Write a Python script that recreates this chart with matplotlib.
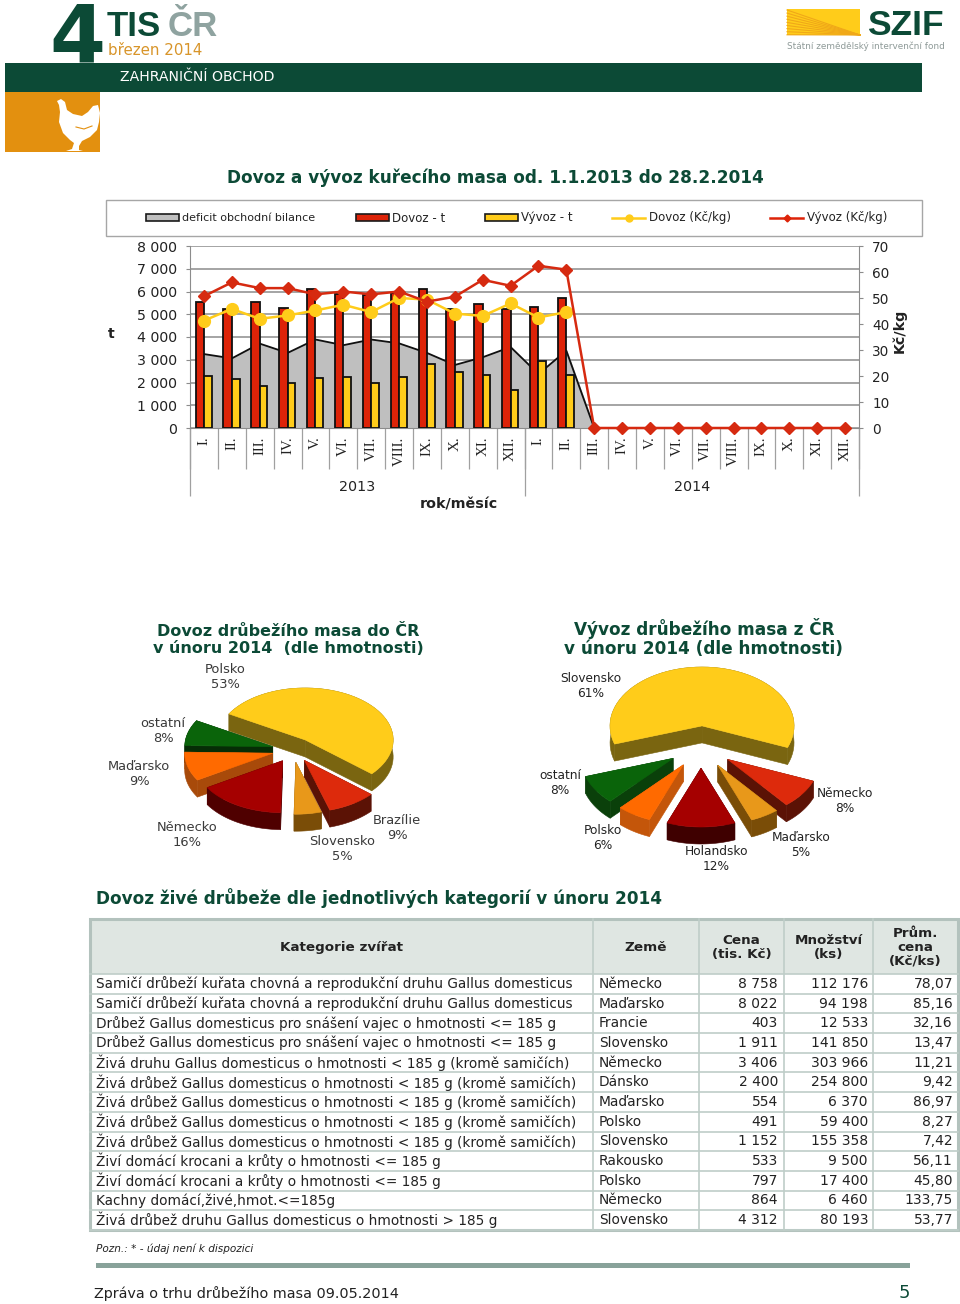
import numpy as np
import matplotlib
matplotlib.use("Agg")
import matplotlib.pyplot as plt
from matplotlib.patches import Polygon, Rectangle

plt.rcParams["font.family"] = ["DejaVu Sans"]

W, H = 960, 1304

# combo chart data
months = ["I.", "II.", "III.", "IV.", "V.", "VI.", "VII.", "VIII.", "IX.", "X.", "XI.", "XII."] * 2
years = ["2013", "2014"]
dovoz_t = [5550, 5230, 5560, 5270, 6090, 5870, 5850, 5950, 6120, 5250, 5450, 5240, 5330, 5720]
vyvoz_t = [2300, 2170, 1850, 1970, 2200, 2230, 1960, 2230, 2820, 2480, 2340, 1680, 2960, 2320]
deficit = [3250, 3060, 3710, 3300, 3890, 3640, 3890, 3720, 3300, 2770, 3110, 3560, 2370, 3400,
           0, 0, 0, 0, 0, 0, 0, 0, 0, 0]
dovoz_kc = [41.3, 45.8, 42.0, 43.3, 45.2, 47.4, 44.6, 50.0, 49.4, 44.0, 43.1, 47.9, 42.5, 44.6]
vyvoz_kc = [50.7, 56.0, 53.8, 53.8, 51.4, 52.5, 51.4, 52.5, 48.6, 50.5, 57.0, 54.7, 62.4, 60.9,
            0, 0, 0, 0, 0, 0, 0, 0, 0, 0]
left_ticks = [0, 1000, 2000, 3000, 4000, 5000, 6000, 7000, 8000]
left_labels = ["0", "1 000", "2 000", "3 000", "4 000", "5 000", "6 000", "7 000", "8 000"]
right_ticks = [0, 10, 20, 30, 40, 50, 60, 70]

# pies
import_names = ["Polsko", "Brazílie", "Slovensko", "Německo", "Maďarsko", "ostatní"]
import_share = [53, 9, 5, 16, 9, 8]
export_names = ["Slovensko", "Německo", "Maďarsko", "Holandsko", "Polsko", "ostatní"]
export_share = [61, 8, 5, 12, 6, 8]

# table
table_head = ["Kategorie zvířat", "Země", "Cena\n(tis. Kč)", "Množství\n(ks)", "Prům.\ncena\n(Kč/ks)"]
categories = [
    "Samičí drůbeží kuřata chovná a reprodukční druhu Gallus domesticus",
    "Samičí drůbeží kuřata chovná a reprodukční druhu Gallus domesticus",
    "Drůbež Gallus domesticus pro snášení vajec o hmotnosti <= 185 g",
    "Drůbež Gallus domesticus pro snášení vajec o hmotnosti <= 185 g",
    "Živá druhu Gallus domesticus o hmotnosti < 185 g (kromě samičích)",
    "Živá drůbež Gallus domesticus o hmotnosti < 185 g (kromě samičích)",
    "Živá drůbež Gallus domesticus o hmotnosti < 185 g (kromě samičích)",
    "Živá drůbež Gallus domesticus o hmotnosti < 185 g (kromě samičích)",
    "Živá drůbež Gallus domesticus o hmotnosti < 185 g (kromě samičích)",
    "Živí domácí krocani a krůty o hmotnosti <= 185 g",
    "Živí domácí krocani a krůty o hmotnosti <= 185 g",
    "Kachny domácí,živé,hmot.<=185g",
    "Živá drůbež druhu Gallus domesticus o hmotnosti > 185 g",
]
countries = ["Německo", "Maďarsko", "Francie", "Slovensko", "Německo", "Dánsko", "Maďarsko",
             "Polsko", "Slovensko", "Rakousko", "Polsko", "Německo", "Slovensko"]
cena = ["8 758", "8 022", "403", "1 911", "3 406", "2 400", "554", "491", "1 152", "533", "797", "864", "4 312"]
mnozstvi = ["112 176", "94 198", "12 533", "141 850", "303 966", "254 800", "6 370", "59 400",
            "155 358", "9 500", "17 400", "6 460", "80 193"]
prum_cena = ["78,07", "85,16", "32,16", "13,47", "11,21", "9,42", "86,97", "8,27", "7,42",
             "56,11", "45,80", "133,75", "53,77"]

GREEN = "#0C4A36"
RED = "#DD2308"
YELLOW = "#FFCC1A"
GRAY_TXT = "#222222"


def rect(x0, y0, x1, y1):
    # pixel box to figure fraction
    return [x0 / W, 1 - y1 / H, (x1 - x0) / W, (y1 - y0) / H]


def draw_pie(ax, shares, colors, walls, start, cx, cy, rx, squish, depth, explode):
    angle = start
    pieces = []
    for share, top, wall in zip(shares, colors, walls):
        sweep = share * 3.6
        t = np.radians(np.linspace(angle, angle - sweep, 60))
        mid = np.radians(angle - sweep / 2)
        tx = cx + explode * np.cos(mid)
        ty = cy - explode * np.sin(mid) * squish
        xs = tx + rx * np.cos(t)
        ys = ty - rx * squish * np.sin(t)
        pieces.append((ty, tx, ty, xs, ys, top, wall))
        angle -= sweep
    # paint far slices first
    for _, tx, ty, xs, ys, top, wall in sorted(pieces, key=lambda p: p[0]):
        for i in [0, -1]:
            ax.add_patch(Polygon([(tx, ty), (xs[i], ys[i]), (xs[i], ys[i] + depth), (tx, ty + depth)],
                                 fc=wall, ec=wall, lw=0.4))
        rim = np.column_stack([np.r_[xs, xs[::-1]], np.r_[ys, ys[::-1] + depth]])
        ax.add_patch(Polygon(rim, fc=wall, ec=wall, lw=0.4))
        ax.add_patch(Polygon(np.column_stack([np.r_[tx, xs], np.r_[ty, ys]]), fc=top, ec=top, lw=0.4))


fig = plt.figure(figsize=(W / 100, H / 100), dpi=100, facecolor="white")

# page overlay in pixel coordinates
page = fig.add_axes([0, 0, 1, 1])
page.set_xlim(0, W)
page.set_ylim(H, 0)
page.axis("off")

# header
page.add_patch(Rectangle((5, 63), 917, 29, fc=GREEN, ec="none"))
page.add_patch(Rectangle((5, 92), 95, 60, fc="#E3900F", ec="none"))
page.text(77, 62, "4", fontsize=58, fontweight="bold", color=GREEN, ha="center", va="baseline")
page.text(107, 36, "TIS", fontsize=25, fontweight="bold", family="Liberation Sans", color=GREEN, va="baseline")
page.text(168, 36, "ČR", fontsize=25, fontweight="bold", family="Liberation Sans", color="#8FA3A0", va="baseline")
page.text(108, 55, "březen 2014", fontsize=10.8, color="#D8952A", va="baseline")
page.text(120, 81, "ZAHRANIČNÍ OBCHOD", fontsize=10.1, color="white", va="baseline")
hen = [(57, 101), (61, 99), (65, 102), (67, 110), (73, 114), (82, 116), (88, 112), (93, 106), (98, 105), (100, 113),
       (99, 122), (97, 130), (90, 137), (82, 141), (79, 146), (79, 150), (83, 151), (66, 151), (72, 149), (74, 143),
       (70, 140), (63, 133), (59, 122), (60, 112), (59, 105)]
page.add_patch(Polygon(hen, fc="white", ec="none"))
page.plot([76, 84, 92], [127, 129, 126], color="#E3900F", lw=0.8)
page.add_patch(Rectangle((787, 9), 73, 26, fc="#FFCC1A", ec="none"))
for k in range(9):
    page.plot([787, 860], [10 + k * 3.1, 35], color="#F0A818", lw=0.8)
page.text(867, 35, "SZIF", fontsize=25.5, fontweight="bold", family="Liberation Sans", color=GREEN, va="baseline")
page.text(787, 49, "Státní zemědělský intervenční fond", fontsize=6.4, color="#8E9A98", va="baseline")

page.text(495, 177.5, "Dovoz a vývoz kuřecího masa od. 1.1.2013 do 28.2.2014", fontsize=12.2,
          fontweight="bold", color=GREEN, ha="center", va="center")

# combo chart legend box
page.add_patch(Rectangle((106, 200), 816, 36, fc="white", ec="#A6A6A6", lw=1))
legend_y = 218
for x0, col, name, size in [(146, "#BFBFBF", "deficit obchodní bilance", 8.0), (356, RED, "Dovoz - t", 8.5),
                            (485, YELLOW, "Vývoz - t", 8.5)]:
    page.add_patch(Rectangle((x0, legend_y - 4), 33, 7, fc=col, ec="#1a1a1a", lw=1.2))
    page.text(x0 + 36, legend_y, name, fontsize=size, color=GRAY_TXT, va="center")
page.plot([612, 628.5, 645], [legend_y] * 3, color=YELLOW, lw=1.8, marker="o", ms=5, markevery=[1])
page.text(649, legend_y, "Dovoz (Kč/kg)", fontsize=8.5, color=GRAY_TXT, va="center")
page.plot([770, 786.5, 803], [legend_y] * 3, color=RED, lw=1.8, marker="D", ms=3.5, markevery=[1])
page.text(807, legend_y, "Vývoz (Kč/kg)", fontsize=8.5, color=GRAY_TXT, va="center")

# combo chart
ax = fig.add_axes(rect(190, 246, 859, 428))
x = np.arange(len(months))
ax.set_xlim(-0.5, len(months) - 0.5)
ax.set_ylim(0, 8000)
ax.set_zorder(2)
ax.yaxis.grid(True, color="#8C8C8C", lw=1.1)
ax.set_axisbelow(True)
ax.fill_between(x[:15], deficit[:15], 0, color="#BFBFBF", zorder=2)
ax.plot(x[:15], deficit[:15], color="#101010", lw=1.3, zorder=2.2)
ax.bar(np.arange(len(dovoz_t)) - 0.15, dovoz_t, width=0.3, color=RED, ec="#101010", lw=1.3, zorder=3)
ax.bar(np.arange(len(vyvoz_t)) + 0.14, vyvoz_t, width=0.28, color=YELLOW, ec="#101010", lw=1.3, zorder=3)
for s in ["top", "right"]:
    ax.spines[s].set_visible(False)
ax.spines["left"].set_color("#8C8C8C")
ax.spines["bottom"].set_color("#8C8C8C")
ax.set_yticks(left_ticks, left_labels, fontsize=10.2, color=GRAY_TXT)
ax.tick_params(axis="y", length=3, color="#8C8C8C", pad=6.5)
ax.set_xticks(np.arange(-0.5, len(months)), [""] * len(np.arange(-0.5, len(months))))
ax.tick_params(axis="x", which="major", length=29.5, color="#A0A0A0", width=0.9)
ax.set_xticks(x, months, minor=True, family="Liberation Serif", rotation=90, fontsize=10.8, color=GRAY_TXT)
ax.tick_params(axis="x", which="minor", length=0, pad=6, labelcolor=GRAY_TXT)
for lab in ax.get_xminorticklabels():
    lab.set_verticalalignment("top")
ax.vlines([-0.5, 11.5, 23.5], 0, -68 / 182, transform=ax.get_xaxis_transform(), color="#A0A0A0", lw=0.9, clip_on=False)
ax.text(5.5, -59 / 182, years[0], transform=ax.get_xaxis_transform(), ha="center", va="center", fontsize=10.3, color=GRAY_TXT)
ax.text(17.5, -59 / 182, years[1], transform=ax.get_xaxis_transform(), ha="center", va="center", fontsize=10.3, color=GRAY_TXT)
page.text(459, 505, "rok/měsíc", fontsize=10.3, fontweight="bold", color=GRAY_TXT, ha="center", va="center")
page.text(111, 334, "t", fontsize=10.3, fontweight="bold", color=GRAY_TXT, ha="center", va="center")

ax2 = ax.twinx()
ax2.set_ylim(0, 70)
ax2.set_zorder(3)
ax2.patch.set_visible(False)
ax2.plot(x[:len(dovoz_kc)], dovoz_kc, color=YELLOW, lw=1.8, marker="o", ms=8.5, clip_on=False, zorder=4)
ax2.plot(x, vyvoz_kc, color="#D62A10", lw=1.8, marker="D", ms=6, clip_on=False, zorder=5)
for s in ["top", "left", "bottom"]:
    ax2.spines[s].set_visible(False)
ax2.spines["right"].set_color("#8C8C8C")
ax2.set_yticks(right_ticks, [str(v) for v in right_ticks], fontsize=9.8, color=GRAY_TXT)
ax2.tick_params(axis="y", length=3, color="#8C8C8C", pad=6.5)
page.text(900, 331, "Kč/kg", fontsize=10.3, fontweight="bold", color=GRAY_TXT, rotation=90, ha="center", va="center")

# pies
page.text(288, 640, "Dovoz drůbežího masa do ČR\nv únoru 2014  (dle hmotnosti)", fontsize=11.5, fontweight="bold",
          color=GREEN, ha="center", va="center", linespacing=1.2)
page.text(704, 638, "Vývoz drůbežího masa z ČR\nv únoru 2014 (dle hmotnosti)", fontsize=12.2, fontweight="bold",
          color=GREEN, ha="center", va="center", linespacing=1.1)

import_top = ["#FFCC1A", "#DD2A0C", "#E8981A", "#A50000", "#FF6A00", "#0A640A"]
import_wall = ["#7A6510", "#5B1205", "#7A4D07", "#4F0000", "#A84A0A", "#062D06"]
draw_pie(page, import_share, import_top, import_wall, 150, 293, 750, 88, 0.59, 17, 21)
export_top = ["#FFCC1A", "#DD2A0C", "#E8981A", "#A50000", "#FF6A00", "#0A640A"]
export_wall = ["#7A6510", "#5B1205", "#7A4D07", "#3F0000", "#C4560A", "#0A400A"]
draw_pie(page, export_share, export_top, export_wall, 198, 701, 747, 92, 0.64, 17, 33)

# label positions follow the order of the name arrays
import_xy = [(225, 677), (397, 828), (342, 849), (187, 835), (139, 774), (163, 731)]
for name, share, (lx, ly) in zip(import_names, import_share, import_xy):
    page.text(lx, ly, f"{name}\n{share}%", fontsize=9.4, color="#3A3A3A", ha="center", va="center", linespacing=1.15)
export_xy = [(591, 686), (845, 801), (801, 845), (716, 859), (603, 838), (560, 783)]
for name, share, (lx, ly) in zip(export_names, export_share, export_xy):
    page.text(lx, ly, f"{name}\n{share}%", fontsize=8.7, color=GRAY_TXT, ha="center", va="center", linespacing=1.2)

# table
page.text(96, 898, "Dovoz živé drůbeže dle jednotlivých kategorií v únoru 2014", fontsize=12.2,
          fontweight="bold", color=GREEN, va="center")
col_edges = [90, 593, 699, 784, 873, 958]
line_col = "#BFCDC8"
head_top, head_bot = 919, 974
row_h = (1230 - head_bot) / len(categories)
page.add_patch(Rectangle((col_edges[0], head_top), col_edges[-1] - col_edges[0], head_bot - head_top, fc="#DFE6E2", ec="none"))
for i, head in enumerate(table_head):
    page.text((col_edges[i] + col_edges[i + 1]) / 2, 947.5, head, fontsize=9.7, fontweight="bold",
              color=GRAY_TXT, ha="center", va="center", linespacing=1.1)
for r in range(len(categories) + 1):
    page.plot([90, 958], [head_bot + r * row_h] * 2, color=line_col, lw=1.2)
for c in col_edges[1:-1]:
    page.plot([c, c], [head_top, 1230], color=line_col, lw=1.2)
page.add_patch(Rectangle((90, head_top), 868, 1230 - head_top, fc="none", ec="#B3C2BD", lw=2.2))
for r in range(len(categories)):
    yy = head_bot + (r + 0.5) * row_h
    page.text(96, yy, categories[r], fontsize=9.8, color=GRAY_TXT, va="center")
    page.text(599, yy, countries[r], fontsize=9.9, color=GRAY_TXT, va="center")
    page.text(778, yy, cena[r], fontsize=10, color=GRAY_TXT, va="center", ha="right")
    page.text(868, yy, mnozstvi[r], fontsize=10, color=GRAY_TXT, va="center", ha="right")
    page.text(953, yy, prum_cena[r], fontsize=10, color=GRAY_TXT, va="center", ha="right")

# footer
page.text(96, 1249, "Pozn.: * - údaj není k dispozici", fontsize=7.6, style="italic", color=GRAY_TXT, va="center")
page.add_patch(Rectangle((96, 1263), 814, 5, fc="#88A29A", ec="none"))
page.text(94, 1294, "Zpráva o trhu drůbežího masa 09.05.2014", fontsize=10.4, color=GRAY_TXT, va="center")
page.text(904, 1293, "5", fontsize=13, color=GREEN, ha="center", va="center")

fig.savefig("out.png", dpi=100)
